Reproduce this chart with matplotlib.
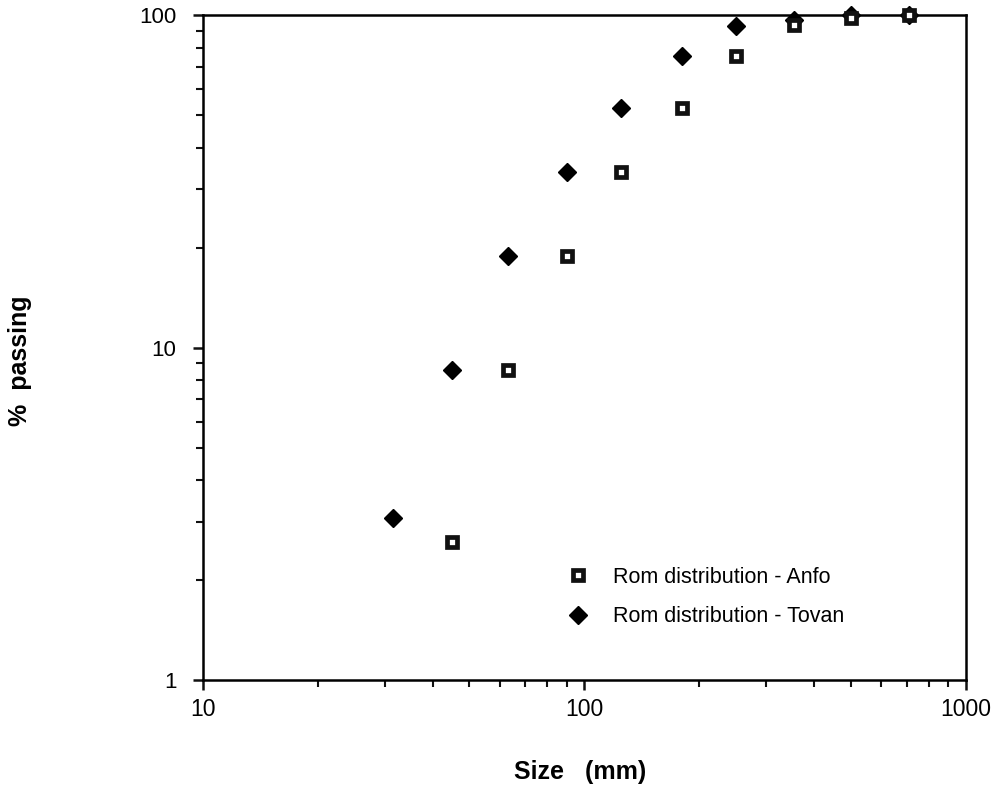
import matplotlib
matplotlib.use('Agg')
import matplotlib.pyplot as plt
from matplotlib.ticker import LogLocator, NullFormatter, FixedLocator, FixedFormatter

plt.rcParams['font.family'] = ['Liberation Sans', 'DejaVu Sans']

# sieve sizes (mm) and cumulative % passing
size_anfo = [45, 63, 90, 125, 180, 250, 355, 500, 710]
pass_anfo = [2.6, 8.6, 18.9, 33.7, 52.8, 75.3, 93.5, 98.5, 100]

size_tovan = [31.5, 45, 63, 90, 125, 180, 250, 355, 500, 710]
pass_tovan = [3.08, 8.6, 18.9, 33.7, 52.8, 75.3, 92.6, 97, 100, 100]

fig = plt.figure(figsize=(10.04, 8.08), dpi=100)
ax = fig.add_axes([0.202, 0.158, 0.76, 0.823])

ax.plot(size_tovan, pass_tovan, linestyle='none', marker='D', ms=9.5,
        mfc='black', mec='black', mew=1, clip_on=False,
        label='Rom distribution - Tovan', zorder=3)
ax.plot(size_anfo, pass_anfo, linestyle='none', marker='s', ms=6.5,
        mfc='white', mec='#111111', mew=3.4, clip_on=False,
        label='Rom distribution - Anfo', zorder=4)

ax.set_xscale('log')
ax.set_yscale('log')
ax.set_xlim(10, 1000)
ax.set_ylim(1, 100)

ax.xaxis.set_major_locator(FixedLocator([10, 100, 1000]))
ax.xaxis.set_major_formatter(FixedFormatter(['10', '100', '1000']))
ax.xaxis.set_minor_locator(LogLocator(base=10, subs=range(2, 10)))
ax.xaxis.set_minor_formatter(NullFormatter())
ax.yaxis.set_major_locator(FixedLocator([1, 10, 100]))
ax.yaxis.set_major_formatter(FixedFormatter(['1', '10', '100']))
ax.yaxis.set_minor_locator(LogLocator(base=10, subs=range(2, 10)))
ax.yaxis.set_minor_formatter(NullFormatter())

for s in ax.spines.values():
    s.set_linewidth(1.8)
ax.tick_params(which='major', direction='out', length=7, width=1.8, color='#111111')
ax.tick_params(which='minor', direction='out', length=5, width=1.5, color='#111111')
ax.tick_params(axis='x', pad=6, labelsize=16.5)
ax.tick_params(axis='y', pad=12, labelsize=16)

fig.text(0.02, 0.553, '%  passing', rotation=90, fontsize=18, fontweight='bold',
         ha='center', va='center')
fig.text(0.578, 0.045, 'Size   (mm)', fontsize=18, fontweight='bold',
         ha='center', va='center')

h, l = ax.get_legend_handles_labels()
ax.legend(h[::-1], l[::-1], loc='lower left', bbox_to_anchor=(0.445, 0.051),
          frameon=False, fontsize=15.5, handletextpad=0.9, labelspacing=0.85,
          handlelength=1.5)

fig.savefig('out.png', dpi=100)
